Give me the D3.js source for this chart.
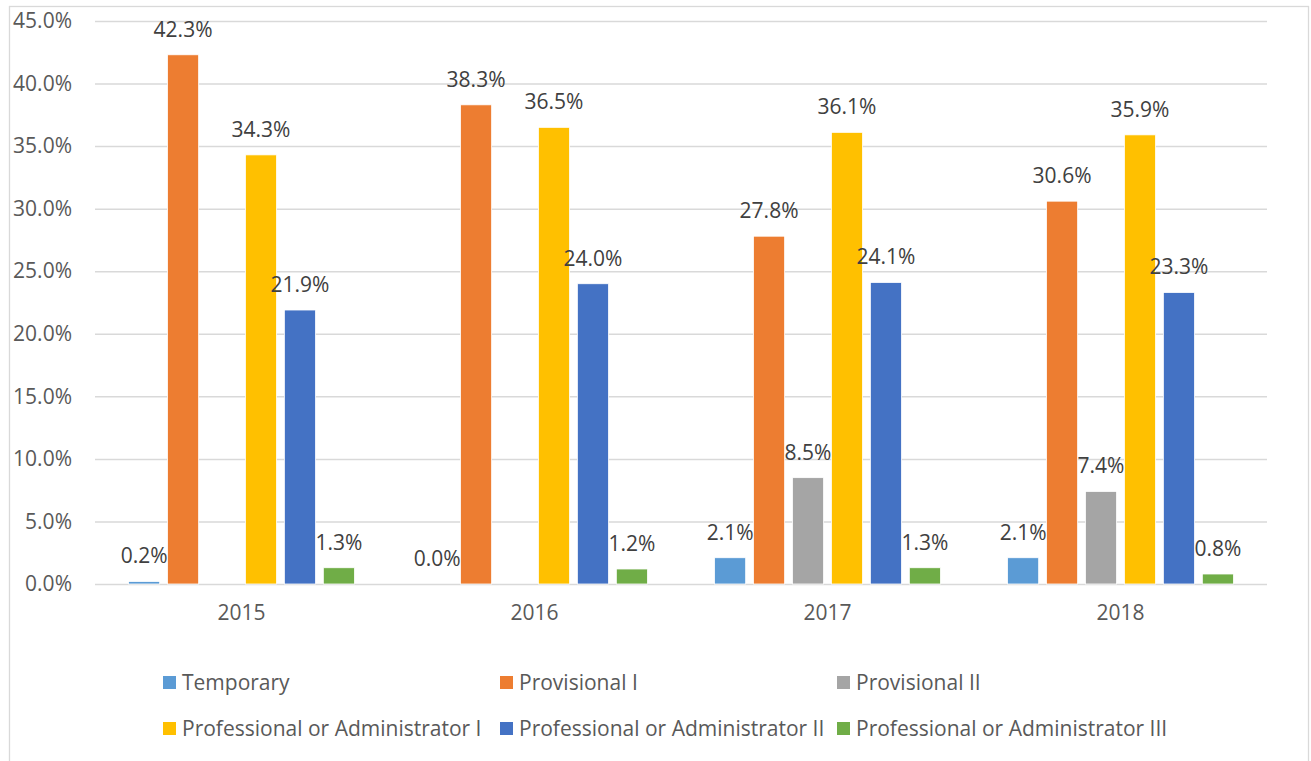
<!DOCTYPE html>
<html>
<head>
<meta charset="utf-8">
<script src="https://cdn.jsdelivr.net/npm/d3@7"></script>
<style>
  body { margin: 0; background: #fff; }
  text { font-family: "Open Sans", sans-serif; }
</style>
</head>
<body>
<div id="viz"></div>
<script>
const years = ["2015", "2016", "2017", "2018"]
const seriesNames = ["Temporary", "Provisional I", "Provisional II",
  "Professional or Administrator I", "Professional or Administrator II", "Professional or Administrator III"]
const seriesColors = ["#5B9BD5", "#ED7D31", "#A5A5A5", "#FFC000", "#4472C4", "#70AD47"]
// one array per series, values per year (null = no bar / no label)
const temporary = [0.2, 0.0, 2.1, 2.1]
const provisional1 = [42.3, 38.3, 27.8, 30.6]
const provisional2 = [null, null, 8.5, 7.4]
const profAdmin1 = [34.3, 36.5, 36.1, 35.9]
const profAdmin2 = [21.9, 24.0, 24.1, 23.3]
const profAdmin3 = [1.3, 1.2, 1.3, 0.8]
const yTicks = [0, 5, 10, 15, 20, 25, 30, 35, 40, 45]

const allSeries = [temporary, provisional1, provisional2, profAdmin1, profAdmin2, profAdmin3]

const width = 1311
const height = 761
const margin = {top: 21, left: 95, right: 44, bottom: 177}
const innerWidth = width - margin.left - margin.right
const innerHeight = height - margin.top - margin.bottom

const svg = d3.select("#viz").append("svg")
  .attr("width", width)
  .attr("height", height)

// chart border (bottom edge sits outside the picture, like the reference)
svg.append("rect")
  .attr("x", 9.5).attr("y", 6.5)
  .attr("width", 1299).attr("height", 760)
  .attr("fill", "none")
  .attr("stroke", "#d9d9d9")
  .attr("stroke-width", 1.3)

const g = svg.append("g")
  .attr("transform", "translate(" + margin.left + "," + margin.top + ")")

const x0 = d3.scaleBand().domain(years).range([0, innerWidth]).padding(0)
const x1 = d3.scaleBand().domain(d3.range(seriesNames.length))
  .range([0, x0.bandwidth()])
  .paddingInner(0.2)
  .paddingOuter(0.86)
const yScale = d3.scaleLinear().domain([0, 45]).range([innerHeight, 0])

// gridlines + y labels
const yAxisG = g.append("g")
  .call(d3.axisLeft(yScale)
    .tickValues(yTicks)
    .tickSize(-innerWidth)
    .tickPadding(23)
    .tickFormat(d => d.toFixed(1) + "%"))
yAxisG.select(".domain").remove()
yAxisG.selectAll(".tick line").attr("stroke", "#d9d9d9").attr("stroke-width", 1.5)
yAxisG.selectAll(".tick text")
  .attr("fill", "#595959")
  .style("font-size", "21px")

// x labels
const xAxisG = g.append("g")
  .attr("transform", "translate(0," + innerHeight + ")")
  .call(d3.axisBottom(x0).tickSize(0).tickPadding(21))
xAxisG.select(".domain").remove()
xAxisG.selectAll(".tick text")
  .attr("fill", "#595959")
  .style("font-size", "21px")

const cells = []
years.forEach((yr, i) => {
  allSeries.forEach((s, j) => {
    if (s[i] !== null) cells.push({year: yr, s: j, v: s[i]})
  })
})

g.selectAll(".bar")
  .data(cells)
  .enter().append("rect")
  .attr("class", "bar")
  .attr("x", d => x0(d.year) + x1(d.s))
  .attr("y", d => yScale(d.v))
  .attr("width", x1.bandwidth())
  .attr("height", d => innerHeight - yScale(d.v))
  .attr("fill", d => seriesColors[d.s])
  .attr("stroke", "#fff")
  .attr("stroke-width", 0.8)

g.selectAll(".label")
  .data(cells)
  .enter().append("text")
  .attr("class", "label")
  .attr("x", d => x0(d.year) + x1(d.s) + x1.bandwidth() / 2)
  .attr("y", d => yScale(d.v) - 18)
  .attr("text-anchor", "middle")
  .attr("fill", "#404040")
  .style("font-size", "21px")
  .text(d => d.v.toFixed(1) + "%")

// legend, 3 columns x 2 rows
const legend = svg.append("g")
const legendItem = legend.selectAll(".legend-item")
  .data(seriesNames)
  .enter().append("g")
  .attr("class", "legend-item")
  .attr("transform", (d, i) => "translate(" + (163 + (i % 3) * 337) + "," + (676 + Math.floor(i / 3) * 46) + ")")
legendItem.append("rect")
  .attr("width", 13).attr("height", 13)
  .attr("fill", (d, i) => seriesColors[i])
legendItem.append("text")
  .attr("x", 19)
  .attr("y", 6.5)
  .attr("dy", "0.35em")
  .attr("fill", "#595959")
  .style("font-size", "21px")
  .text(d => d)
</script>
</body>
</html>
